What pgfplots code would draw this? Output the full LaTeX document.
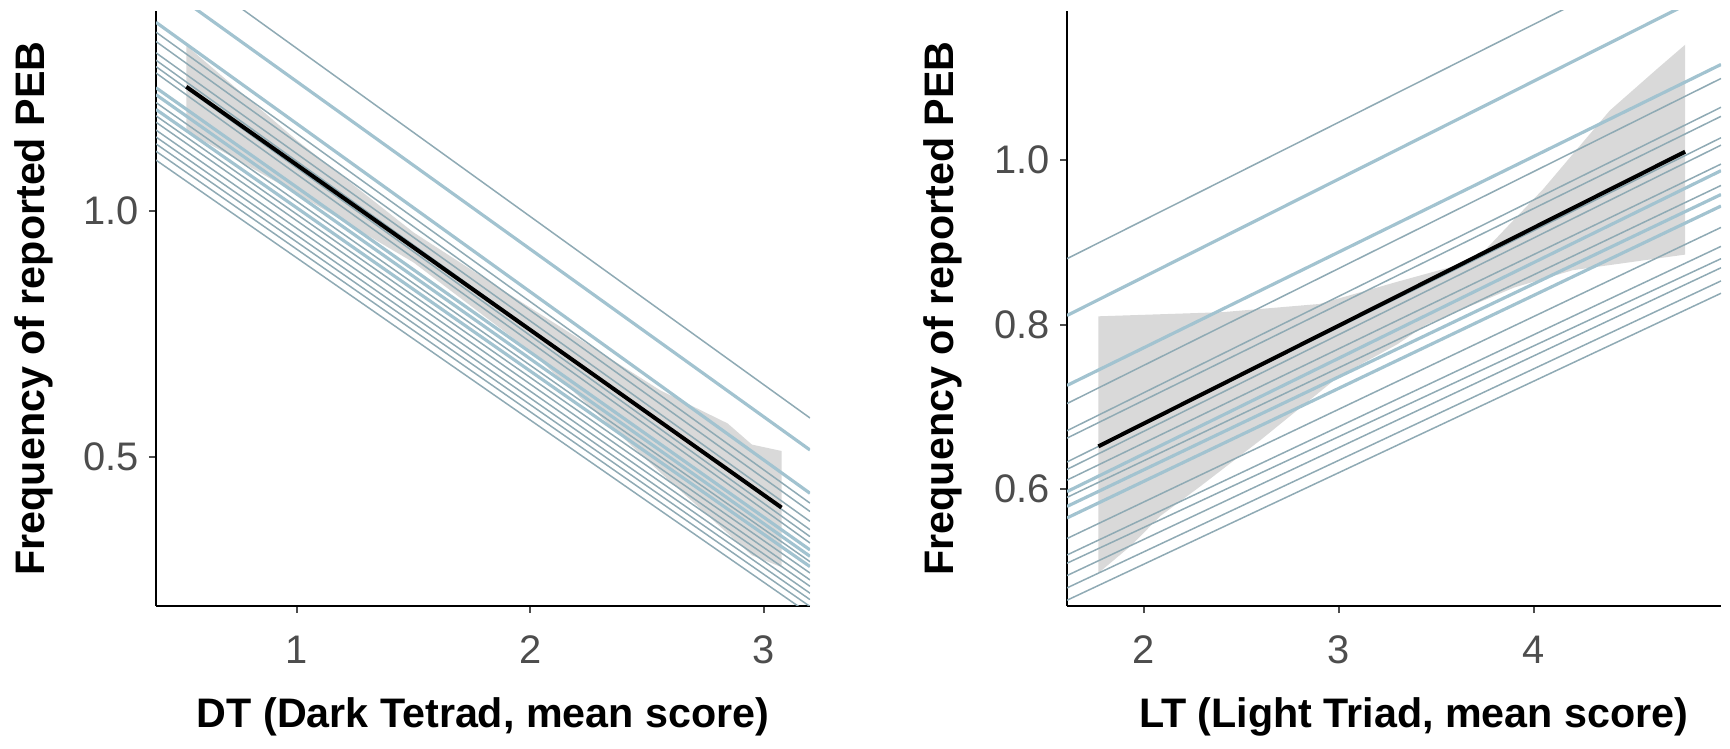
\documentclass[border=0pt]{standalone}
\usepackage{pgfplots}
\pgfplotsset{compat=1.18}
\usepackage{fontspec}
\setmainfont{Liberation Sans}
\definecolor{thinc}{HTML}{8FAAB4}
\definecolor{thickc}{HTML}{A2C3D0}
\definecolor{bandc}{HTML}{D9D9D9}
\definecolor{tickc}{HTML}{4D4D4D}
\pgfplotsset{
  myaxis/.style={
    scale only axis,
    axis lines*=left,
    axis line style={line width=1bp, black},
    tick align=outside,
    major tick length=3.5bp,
    tick style={line width=1bp, color=tickc},
    ticklabel style={font=\fontsize{20}{24}\selectfont, color=tickc},
    xticklabel style={yshift=-8bp},
    yticklabel style={xshift=-1.5bp},
    /pgf/number format/assume math mode=true,
    label style={font=\bfseries\fontsize{20.7}{25}\selectfont, color=black},
    xlabel style={at={(axis description cs:0.5,0)}, anchor=center, yshift=-55.5bp},
    ylabel style={at={(axis description cs:-0.1865,0.5)}, anchor=center},
    yticklabel style={/pgf/number format/.cd, fixed, fixed zerofill, precision=1},
    width=327bp, height=297.5bp,
  },
  lthin/.style={color=thinc, line width=0.75bp, no marks},
  lthick/.style={color=thickc, line width=1.6bp, no marks},
  mean/.style={color=black, line width=2bp, no marks},
  band/.style={fill=bandc, draw=none, no marks},
}
\begin{document}
\begin{tikzpicture}
\useasboundingbox (0,0) rectangle (865bp,374.5bp);
% ---------------- Left panel: Dark Tetrad ----------------
\begin{axis}[myaxis, at={(78bp,71.5bp)}, anchor=south west,
  xmin=0.396, xmax=3.199, ymin=0.197, ymax=1.406,
  xtick={1,2,3}, ytick={0.5,1.0},
  xlabel={DT (Dark Tetrad, mean score)},
  ylabel={Frequency of reported PEB}]
\addplot[band] coordinates {(0.526,1.336) (1.0,1.143) (1.5,0.956) (2.0,0.803) (2.558,0.635) (2.846,0.568) (2.95,0.525) (3.077,0.512)
  (3.077,0.276) (2.95,0.300) (2.558,0.468) (2.0,0.715) (1.5,0.895) (1.0,1.035) (0.526,1.162)} -- cycle;
\addplot[lthin]  coordinates {(0.396,1.536) (3.199,0.579)};
\addplot[lthick] coordinates {(0.396,1.468) (3.199,0.514)};
\addplot[lthick] coordinates {(0.396,1.383) (3.199,0.426)};
\addplot[lthin]  coordinates {(0.396,1.363) (3.199,0.406)};
\addplot[lthin]  coordinates {(0.396,1.344) (3.199,0.389)};
\addplot[lthin]  coordinates {(0.396,1.321) (3.199,0.369)};
\addplot[lthin]  coordinates {(0.396,1.306) (3.199,0.352)};
\addplot[lthin]  coordinates {(0.396,1.293) (3.199,0.338)};
\addplot[lthin]  coordinates {(0.396,1.280) (3.199,0.325)};
\addplot[lthick] coordinates {(0.396,1.250) (3.199,0.311)};
\addplot[lthick] coordinates {(0.396,1.236) (3.199,0.298)};
\addplot[lthin]  coordinates {(0.396,1.220) (3.199,0.287)};
\addplot[lthick] coordinates {(0.396,1.206) (3.199,0.277)};
\addplot[lthin]  coordinates {(0.396,1.193) (3.199,0.264)};
\addplot[lthin]  coordinates {(0.396,1.180) (3.199,0.250)};
\addplot[lthin]  coordinates {(0.396,1.164) (3.199,0.237)};
\addplot[lthin]  coordinates {(0.396,1.150) (3.199,0.223)};
\addplot[lthin]  coordinates {(0.396,1.136) (3.199,0.210)};
\addplot[lthin]  coordinates {(0.396,1.121) (3.199,0.196)};
\addplot[lthin]  coordinates {(0.396,1.103) (3.199,0.180)};
\addplot[mean] coordinates {(0.526,1.252) (3.077,0.397)};
\end{axis}
% ---------------- Right panel: Light Triad ----------------
\begin{axis}[myaxis, at={(533.5bp,71.5bp)}, anchor=south west,
  xmin=1.605, xmax=4.961, ymin=0.458, ymax=1.181,
  xtick={2,3,4}, ytick={0.6,0.8,1.0},
  xlabel={LT (Light Triad, mean score)},
  xlabel style={at={(axis description cs:0.53,0)}},
  ylabel style={at={(axis description cs:-0.19,0.5)}},
  ylabel={Frequency of reported PEB}]
\addplot[band] coordinates {(1.766,0.810) (2.4,0.815) (2.9,0.825) (3.3,0.852) (3.7,0.878) (4.05,0.965) (4.39,1.060) (4.63,1.110) (4.777,1.140)
  (4.777,0.885) (4.2,0.866) (3.9,0.845) (3.45,0.800) (3.3,0.776) (3.0,0.737) (2.6,0.660) (2.287,0.603) (2.082,0.567) (1.937,0.532) (1.766,0.498)} -- cycle;
\addplot[lthin]  coordinates {(1.605,0.880) (4.961,1.279)};
\addplot[lthick] coordinates {(1.605,0.811) (4.961,1.210)};
\addplot[lthick] coordinates {(1.605,0.726) (4.961,1.116)};
\addplot[lthin]  coordinates {(1.605,0.704) (4.961,1.099)};
\addplot[lthin]  coordinates {(1.605,0.671) (4.961,1.064)};
\addplot[lthin]  coordinates {(1.605,0.662) (4.961,1.053)};
\addplot[lthin]  coordinates {(1.605,0.633) (4.961,1.027)};
\addplot[lthin]  coordinates {(1.605,0.624) (4.961,1.018)};
\addplot[lthin]  coordinates {(1.605,0.611) (4.961,0.995)};
\addplot[lthick] coordinates {(1.605,0.597) (4.961,0.987)};
\addplot[lthin]  coordinates {(1.605,0.590) (4.961,0.969)};
\addplot[lthick] coordinates {(1.605,0.579) (4.961,0.958)};
\addplot[lthick] coordinates {(1.605,0.565) (4.961,0.944)};
\addplot[lthin]  coordinates {(1.605,0.540) (4.961,0.918)};
\addplot[lthin]  coordinates {(1.605,0.520) (4.961,0.895)};
\addplot[lthin]  coordinates {(1.605,0.510) (4.961,0.880)};
\addplot[lthin]  coordinates {(1.605,0.495) (4.961,0.869)};
\addplot[lthin]  coordinates {(1.605,0.480) (4.961,0.853)};
\addplot[lthin]  coordinates {(1.605,0.465) (4.961,0.838)};
\addplot[mean] coordinates {(1.766,0.652) (4.777,1.010)};
\end{axis}
\end{tikzpicture}
\end{document}
